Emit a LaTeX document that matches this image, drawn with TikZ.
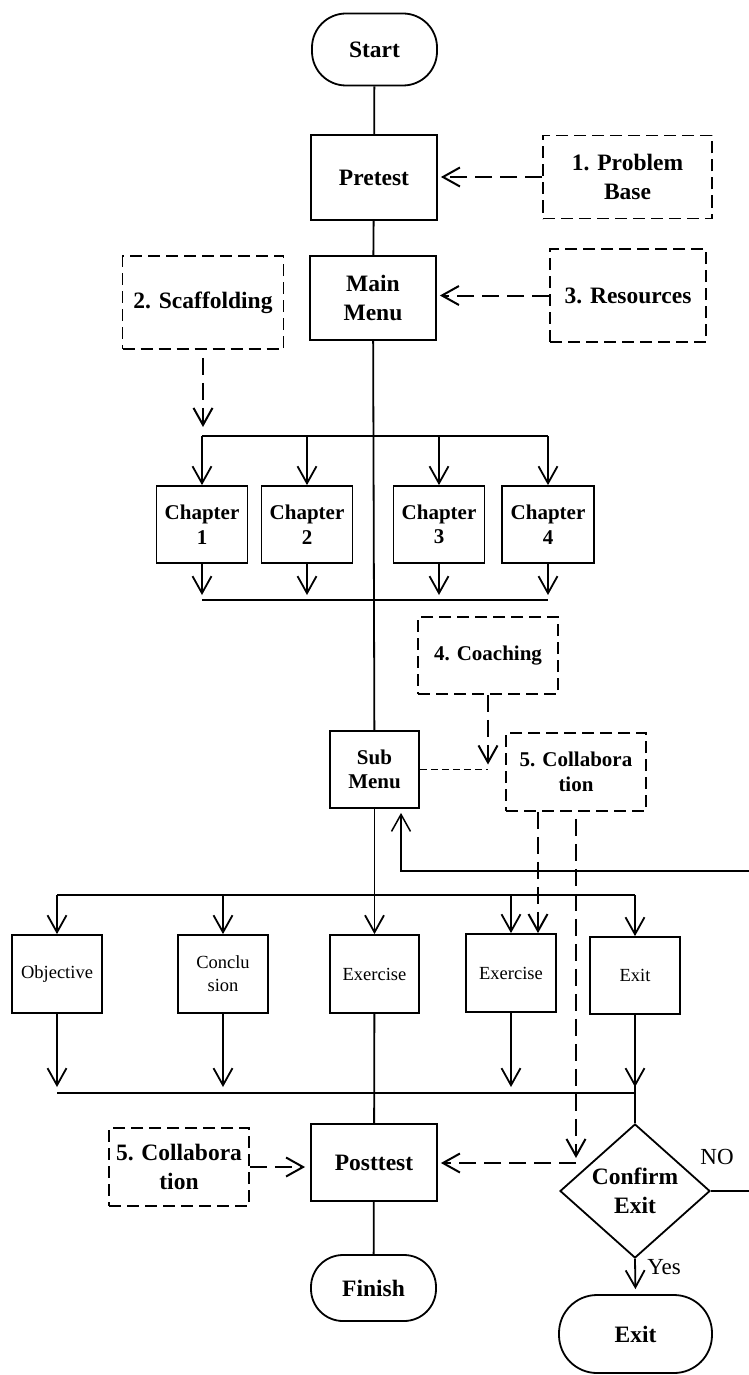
\documentclass[tikz,border=0pt]{standalone}
\usepackage{fontspec}
\setmainfont{Liberation Serif}
\usetikzlibrary{arrows.meta,shapes.geometric,calc}
\begin{document}
\begin{tikzpicture}[x=1pt,y=-1pt,
  every node/.style={inner sep=0pt, align=center},
  bfl/.style={font=\fontsize{23.5}{28.5}\selectfont\bfseries},
  bfm/.style={font=\fontsize{21}{24.5}\selectfont\bfseries},
  nrm/.style={font=\fontsize{18.5}{23}\selectfont},
  lbl/.style={font=\fontsize{23}{26}\selectfont},
  box/.style={draw, line width=1.8pt, rectangle},
  dbox/.style={draw, line width=1.6pt, dash pattern=on 12pt off 6pt},
  term/.style={draw, line width=1.8pt, rounded corners=34pt},
  ln/.style={line width=1.8pt},
  bus/.style={line width=1.4pt},
  arr/.style={line width=1.8pt, -{Straight Barb[length=17pt,width=19pt]}},
  darr/.style={arr, line width=2pt, dash pattern=on 17pt off 8pt},
]
\useasboundingbox (0,0) rectangle (749,1375);

% top column
\node[term,bfl,minimum width=125pt,minimum height=72pt] (start) at (374.5,49.5) {Start};
\node[box,bfl,minimum width=126pt,minimum height=85pt] (pretest) at (374,177.5) {Pretest};
\node[dbox,bfl,minimum width=169pt,minimum height=83pt] (pb) at (627.5,177) {1. Problem\\Base};
\node[box,bfl,minimum width=126pt,minimum height=84pt] (mainmenu) at (373,298) {Main\\Menu};
\node[dbox,bfl,minimum width=161pt,minimum height=93pt] (scaff) at (203,302.5) {2. Scaffolding};
\node[dbox,bfl,minimum width=156pt,minimum height=93pt] (res) at (628,295.5) {3. Resources};

% chapters
\node[box,bfm,minimum width=91pt,minimum height=77pt] (ch1) at (202,524.5) {Chapter\\1};
\node[box,bfm,minimum width=91pt,minimum height=77pt] (ch2) at (307,524.5) {Chapter\\2};
\node[box,bfm,minimum width=91pt,minimum height=77pt] (ch3) at (439,524.5) {Chapter\\3};
\node[box,bfm,minimum width=92pt,minimum height=77pt] (ch4) at (548,524.5) {Chapter\\4};

% sub menu level
\node[dbox,bfm,minimum width=140pt,minimum height=77pt] (coach) at (488,655.5) {4. Coaching};
\node[box,bfm,minimum width=89pt,minimum height=77pt] (submenu) at (374.5,769.5) {Sub\\Menu};
\node[dbox,bfm,minimum width=140pt,minimum height=78pt] (collab1) at (576,772) {5. Collabora\\tion};

% lower boxes
\node[box,nrm,minimum width=90pt,minimum height=78pt] (objective) at (57,974) {Objective};
\node[box,nrm,minimum width=90pt,minimum height=78pt] (conclusion) at (223,974) {Conclu\\sion};
\node[box,nrm,minimum width=89pt,minimum height=78pt] (exercise1) at (374.5,974) {Exercise};
\node[box,nrm,minimum width=90pt,minimum height=78pt] (exercise2) at (511,973) {Exercise};
\node[box,nrm,minimum width=90pt,minimum height=77pt] (exitbox) at (635,975.5) {Exit};

% bottom
\node[box,bfl,minimum width=126pt,minimum height=77pt] (posttest) at (374,1162.5) {Posttest};
\node[term,bfl,rounded corners=32pt,minimum width=125pt,minimum height=66pt] (finish) at (373.5,1288) {Finish};
\node[dbox,bfl,minimum width=140pt,minimum height=78pt] (collab2) at (179,1167) {5. Collabora\\tion};
\node[draw,ln,diamond,aspect=1.12,minimum width=150pt,minimum height=134pt,bfl] (confirm) at (635,1191) {Confirm\\Exit};
\node[term,bfl,rounded corners=38pt,minimum width=153pt,minimum height=78pt] (exitterm) at (635.5,1334) {Exit};
\node[lbl] (no) at (717,1157) {NO};
\node[lbl] (yes) at (664,1267) {Yes};

% coordinates
\coordinate (tA) at (202,436);
\coordinate (tB) at (548,436);
\coordinate (bA) at (202,600);
\coordinate (bB) at (548,600);
\coordinate (lA) at (57,895);
\coordinate (lB) at (635,895);
\coordinate (mA) at (57,1093);
\coordinate (mB) at (635,1093);
\coordinate (c5) at (576,1163);
\coordinate (edgeA) at (753,1191);
\coordinate (edgeB) at (753,871);
\coordinate (ret) at (401,871);

% main column
\draw[ln] (start) -- (pretest);
\draw[ln] (pretest) -- (mainmenu);
\draw[ln] (mainmenu) -- (submenu);
\draw[arr] (submenu) -- (exercise1);
\draw[ln] (exercise1) -- (posttest);
\draw[ln] (posttest) -- (finish);

% side inputs
\draw[darr,shorten >=3pt] (pb.west) -- (pb.west -| pretest.east);
\draw[darr,shorten >=3pt] (res.west) -- (res.west -| mainmenu.east);
\draw[darr,shorten <=8pt,shorten >=9pt] (scaff.south) -- (scaff.south |- tA);

% chapter buses
\draw[bus] (tA) -- (tB);
\draw[bus] (bA) -- (bB);
\foreach \c in {ch1,ch2,ch3,ch4}{
  \draw[arr] (\c.north |- tA) -- (\c.north);
  \draw[arr,shorten >=5pt] (\c.south) -- (\c.south |- bA);
}

% coaching
\draw[darr,shorten >=5pt] (coach.south) -- ($(coach.south |- submenu.east)$);
\draw[line width=1.1pt,dash pattern=on 7pt off 4pt] (submenu.east) -- (submenu.east -| coach.south);

% lower buses
\draw[bus] (lA) -- (lB);
\draw[bus] (mA) -- (mB);
\foreach \c in {objective,conclusion,exercise2,exitbox}{
  \draw[arr] (\c.north |- lA) -- (\c.north);
  \draw[arr,shorten >=6pt] (\c.south) -- (\c.south |- mA);
}
\draw[ln] (exitbox.south) -- (confirm.north);

% collaboration arrows
\draw[darr] ([xshift=-38pt]collab1.south) -- ([xshift=-38pt]collab1.south |- exercise2.north);
\draw[darr,shorten <=7pt,shorten >=5pt] (collab1.south) -- (c5);
\draw[darr,shorten >=3pt] (c5) -- (c5 -| posttest.east);
\draw[darr,shorten >=5pt] (collab2.east) -- (collab2.east -| posttest.west);

% exit decision
\draw[arr,shorten >=5pt] (confirm.south) -- (exitterm.north);
\draw[arr,line width=1.5pt,shorten >=4pt] (confirm.east) -- (edgeA) -- (edgeB) -- (ret) -- (ret |- submenu.south);
\end{tikzpicture}
\end{document}
